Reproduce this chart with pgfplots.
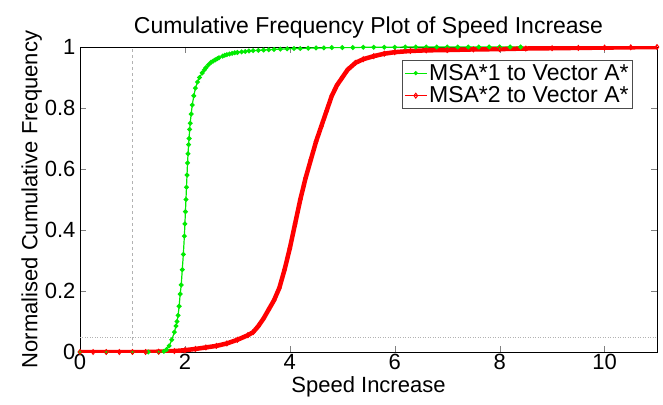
\documentclass[border=0pt]{standalone}
\usepackage{fontspec}
\setmainfont{Liberation Sans}
\usepackage{pgfplots}
\pgfplotsset{compat=1.18}
\begin{document}
\begin{tikzpicture}
\useasboundingbox (-80pt,-52pt) rectangle (583pt,352pt);
\begin{axis}[
  at={(0pt,0pt)}, anchor=south west,
  scale only axis, width=577pt, height=305pt,
  xmin=0, xmax=11, ymin=0, ymax=1,
  xtick={0,2,4,6,8,10}, ytick={0,0.2,0.4,0.6,0.8,1},
  yticklabels={0,0.2,0.4,0.6,0.8,1},
  tick align=inside, tick pos=both,
  major tick length=6pt,
  /pgf/number format/assume math mode=true,
  tick label style={font=\fontsize{22}{24}\selectfont},
  label style={font=\fontsize{22}{24}\selectfont},
  title style={font=\fontsize{23}{25}\selectfont, yshift=-1pt},
  title={Cumulative Frequency Plot of Speed Increase},
  xlabel={Speed Increase}, ylabel={Normalised Cumulative Frequency},
  xlabel style={yshift=0pt},
  ylabel style={yshift=-4pt},
  xticklabel style={yshift=1pt},
  yticklabel style={xshift=-1pt},
  legend style={at={(0.958,0.957)}, anchor=north east, font=\fontsize{23}{25}\selectfont, draw=black!70, inner sep=2pt, row sep=1pt},
  legend cell align=left,
  legend image code/.code={\draw[mark repeat=2,mark phase=2,#1,line width=0.7pt] plot coordinates {(0pt,0pt) (11pt,0pt) (22pt,0pt)};},
]
\addplot[gray!60, dashed, forget plot, line width=0.5pt] coordinates {(1,0) (1,1)};
\addplot[gray!60, dotted, forget plot, line width=0.5pt] coordinates {(0,0.05) (11,0.05)};
\addplot[color={rgb,255:red,0;green,235;blue,0}, line width=1.2pt, mark=*, mark size=1.8pt] coordinates {
(0,0) (0.5,0) (1.0,0) (1.3,0) (1.5,0) (1.6,0.002) (1.65,0.008) (1.7,0.02) (1.75,0.04) (1.8,0.065) (1.83,0.085) (1.85,0.1) (1.87,0.12) (1.89,0.15) (1.91,0.19) (1.93,0.22) (1.95,0.27) (1.97,0.32) (1.99,0.38) (2.0,0.42) (2.01,0.46) (2.02,0.5) (2.03,0.54) (2.04,0.58) (2.05,0.62) (2.06,0.65) (2.07,0.68) (2.08,0.7) (2.09,0.73) (2.1,0.75) (2.12,0.78) (2.14,0.81) (2.17,0.84) (2.2,0.865) (2.24,0.885) (2.28,0.9) (2.33,0.915) (2.37,0.925) (2.4,0.932) (2.45,0.942) (2.5,0.95) (2.54,0.954) (2.58,0.958) (2.62,0.962) (2.65,0.965) (2.72,0.97) (2.76,0.973) (2.8,0.975) (2.85,0.977) (2.9,0.979) (2.95,0.981) (3.0,0.982) (3.08,0.984) (3.15,0.985) (3.22,0.987) (3.3,0.988) (3.4,0.989) (3.5,0.99) (3.6,0.991) (3.7,0.992) (3.82,0.993) (3.95,0.994) (4.08,0.995) (4.2,0.995) (4.35,0.996) (4.5,0.997) (4.65,0.997) (4.8,0.998) (5,0.998) (5.2,0.998) (5.4,0.999) (5.6,0.999) (5.8,0.999) (6,0.999) (6.2,1) (6.4,1) (6.6,1) (6.8,1) (7,1) (7.2,1) (7.4,1) (7.6,1) (7.8,1) (8,1) (8.2,1) (8.4,1)
};
\addlegendentry{MSA*1 to Vector A*}
\addplot[color=red, line width=4.5pt, mark=diamond, mark size=2.4pt, mark options={line width=1pt}] coordinates {
(0,0) (0.25,0) (0.5,0) (0.75,0) (1,0) (1.25,0) (1.5,0.001) (1.8,0.003) (2.0,0.006) (2.2,0.01) (2.4,0.015) (2.6,0.02) (2.8,0.028) (3.0,0.04) (3.2,0.055) (3.3,0.065) (3.4,0.085) (3.5,0.11) (3.6,0.14) (3.7,0.17) (3.8,0.21) (3.9,0.27) (4.0,0.34) (4.1,0.42) (4.2,0.5) (4.3,0.57) (4.4,0.63) (4.5,0.69) (4.6,0.74) (4.7,0.79) (4.8,0.84) (4.9,0.875) (5.0,0.9) (5.1,0.925) (5.25,0.948) (5.4,0.96) (5.6,0.97) (5.8,0.978) (6.0,0.983) (6.3,0.987) (6.6,0.989) (7,0.99) (7.5,0.992) (8,0.993) (8.5,0.995) (9,0.996) (9.5,0.997) (10,0.998) (10.5,0.999) (11,1)
};
\addlegendentry{MSA*2 to Vector A*}
\end{axis}
\end{tikzpicture}
\end{document}
